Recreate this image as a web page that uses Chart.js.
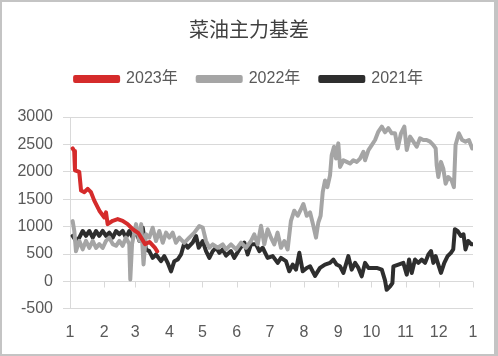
<!DOCTYPE html>
<html><head><meta charset="utf-8">
<script src="https://cdn.jsdelivr.net/npm/chart.js@4/dist/chart.umd.min.js"></script>
<style>
html,body{margin:0;padding:0;background:#fff;}
#wrap{position:relative;width:498px;height:356px;}
#c{position:absolute;left:0;top:0;}
#frame{position:absolute;left:0;top:0;width:498px;height:356px;box-sizing:border-box;border-style:solid;border-color:#c4c4c4;border-width:2px 4px 2px 2px;pointer-events:none;}
</style></head>
<body><div id="wrap"><canvas id="c" width="498" height="356"></canvas><div id="frame"></div></div>
<script>
// ---- data (x = day of year, 0 = Jan 1) ----
const monthTickDays = [0,31,59,90,120,151,181,212,243,273,304,334,365];
const monthTickLabels = ['1','2','3','4','5','6','7','8','9','10','11','12','1'];
const yTicks = [-500,0,500,1000,1500,2000,2500,3000];

const days2023 = [2.4,3.8,4.5,8.4,10,13,16,19,22,26.6,31.1,32.6,34.1,38.7,43.2,47.7,52.2,56.8,62,68,72,77,79];
const vals2023 = [2427,2380,2028,1997,1659,1628,1690,1628,1474,1290,1167,1260,1045,1106,1137,1106,1045,952,880,680,720,610,550];

const days2022 = [2.4,3.9,5.4,8.4,11.5,14.5,17.5,20.6,23.6,26.5,29.6,32.6,35.6,38.7,41.7,44.7,47.7,50.7,53.7,54.6,56.2,59.8,62.8,64.5,66.6,68.8,71.8,74.9,77.9,80.9,84,87,90,93,96,99,103.5,108,112.6,117.1,120.2,123.2,126.2,129.3,133.8,138.3,141.3,145.8,150.4,154.9,159.4,163.9,166.9,170,173,176,179,182,185,188,191.1,194.1,197.1,200.1,203.1,206.2,209.2,211.4,214.4,217.4,220.4,222.8,224.9,227,228.9,231,233.1,235.5,237,239.1,240.9,243,244.6,247.6,250.6,253.6,256.6,259.7,262.7,265.7,267.2,270.3,273.3,276.3,279.3,282.4,285.3,288.3,291.4,294.4,296.8,299.8,302.8,305,308,311,314,317,320,323,326.1,329.1,331.2,332.1,333.6,336,338.1,340.2,342.6,345.6,347.7,349.2,352.2,355.2,358.2,361.3,364.3];
const vals2022 = [1100,920,550,740,585,740,610,740,610,680,610,740,800,680,650,740,650,800,680,35,680,1045,740,1045,310,860,800,980,737,920,705,890,800,890,705,800,705,800,890,1010,983,737,614,675,614,675,583,676,584,707,614,737,860,676,1014,676,952,799,676,891,614,737,584,1106,1290,1198,1321,1413,1198,1260,1014,799,1075,1198,1628,1843,1720,1935,2303,2457,2242,2519,2089,2211,2181,2150,2211,2181,2242,2365,2211,2396,2488,2580,2734,2826,2720,2796,2703,2703,2427,2703,2826,2396,2642,2550,2457,2611,2580,2580,2550,2488,2427,2120,1905,2181,2058,1782,1905,1843,1720,2488,2703,2580,2550,2580,2427];

const days2021 = [2.4,5.4,8.4,11.5,14.5,17.5,20.6,23.6,26.5,29.6,32.6,35.6,38.7,41.7,44.7,47.7,50.7,53.7,56.8,59.8,62.8,65.9,68.8,71.8,74.9,77.9,82.4,85.4,88.5,91.5,94.5,97.5,100.6,103.6,106.6,111.1,114.2,116.6,120.2,123.2,126.2,129.3,132.3,135.3,138.3,141.3,145.8,148.8,153.4,157.9,160.9,163.9,168.5,171.5,174.5,179,183.6,188.1,191.1,195.6,198.6,201.7,204.7,207.7,210.8,214.4,217.4,221.9,226.4,230.9,235.5,238.5,241.5,244.6,247.6,252.1,255.1,258.2,261.2,264.2,267.2,270.3,273.3,277.8,282.4,285.3,286.8,289.9,292,292.9,297.4,301.9,305,307.1,309.5,312.5,315.5,318.5,321.6,324.6,327,329.1,331.2,333.6,336,339,342,345,347.1,348.6,351,354,356.4,358.2,360.6,363.6,365];
const vals2021 = [830,740,800,920,830,920,800,920,830,920,830,890,800,920,860,920,800,920,800,920,740,980,583,553,430,491,369,460,338,184,369,399,491,706,614,706,829,614,737,553,430,553,614,522,583,470,553,430,584,707,491,676,676,553,614,430,461,338,430,369,184,307,215,522,184,246,276,100,246,307,338,399,307,276,154,461,215,338,246,92,338,246,246,246,215,20,-154,-92,-31,276,307,338,123,399,154,399,338,399,338,491,553,338,461,307,154,338,461,522,584,952,922,829,860,584,737,676,676];

const toPts = (d, v) => d.map((x, i) => ({x: x, y: v[i]}));
const FONT = "'Liberation Sans','Noto Sans CJK SC',sans-serif";
const GRID = '#d9d9d9';

const zeroAxisPlugin = {
  id: 'zeroAxis',
  beforeDatasetsDraw(chart) {
    const xs = chart.scales.x, ys = chart.scales.y, ctx = chart.ctx;
    const y0 = Math.round(ys.getPixelForValue(0)) + 0.5;
    ctx.save();
    ctx.strokeStyle = GRID; ctx.lineWidth = 1;
    ctx.beginPath();
    ctx.moveTo(xs.left, y0); ctx.lineTo(xs.right, y0);
    monthTickDays.forEach(d => {
      const px = Math.round(xs.getPixelForValue(d)) + 0.5;
      ctx.moveTo(px, y0); ctx.lineTo(px, y0 + 6);
    });
    ctx.stroke();
    ctx.restore();
  }
};

new Chart(document.getElementById('c'), {
  type: 'line',
  data: {
    datasets: [
      {label: '2023年', data: toPts(days2023, vals2023), borderColor: '#d52b2b', backgroundColor: '#d52b2b'},
      {label: '2022年', data: toPts(days2022, vals2022), borderColor: '#a5a5a5', backgroundColor: '#a5a5a5'},
      {label: '2021年', data: toPts(days2021, vals2021), borderColor: '#2e2e2e', backgroundColor: '#2e2e2e'}
    ]
  },
  options: {
    responsive: false,
    animation: false,
    elements: {
      line: {borderWidth: 4, tension: 0, borderJoinStyle: 'round', borderCapStyle: 'round'},
      point: {radius: 0, hoverRadius: 0}
    },
    layout: {padding: {left: 0, right: 0, top: 0, bottom: 0}},
    plugins: {
      title: {display: true, text: '菜油主力基差', color: '#404040',
        font: {family: "'Noto Sans CJK SC',sans-serif", size: 20, weight: 'normal'},
        padding: {top: 17, bottom: 10}},
      legend: {display: true, position: 'top',
        labels: {boxWidth: 43, boxHeight: 4, padding: 20, color: '#595959', font: {family: FONT, size: 16}}},
      tooltip: {enabled: false}
    },
    scales: {
      x: {type: 'linear', min: 0, max: 365,
        afterBuildTicks: (s) => { s.ticks = monthTickDays.map(v => ({value: v})); },
        ticks: {autoSkip: false, maxRotation: 0, color: '#595959', padding: 14, font: {family: FONT, size: 16},
          callback: (v, i) => monthTickLabels[i]},
        grid: {display: false, drawTicks: false},
        border: {display: false}
      },
      xTop: {type: 'linear', position: 'top', min: 0, max: 1, display: true,
        ticks: {display: false}, grid: {display: false, drawTicks: false}, border: {display: false},
        afterFit: (s) => { s.height = 20; }
      },
      y: {type: 'linear', min: -500, max: 3000,
        afterBuildTicks: (s) => { s.ticks = yTicks.map(v => ({value: v})); },
        afterFit: (s) => { s.width = 70; },
        ticks: {color: '#595959', padding: 10, font: {family: FONT, size: 16}, callback: (v) => String(v)},
        grid: {color: GRID, tickLength: 7, drawTicks: true},
        border: {display: true, color: GRID}
      },
      yRight: {type: 'linear', position: 'right', min: 0, max: 1, display: true,
        ticks: {display: false}, grid: {display: false, drawTicks: false}, border: {display: false},
        afterFit: (s) => { s.width = 25; }
      }
    }
  },
  plugins: [zeroAxisPlugin]
});
</script>
</body></html>
